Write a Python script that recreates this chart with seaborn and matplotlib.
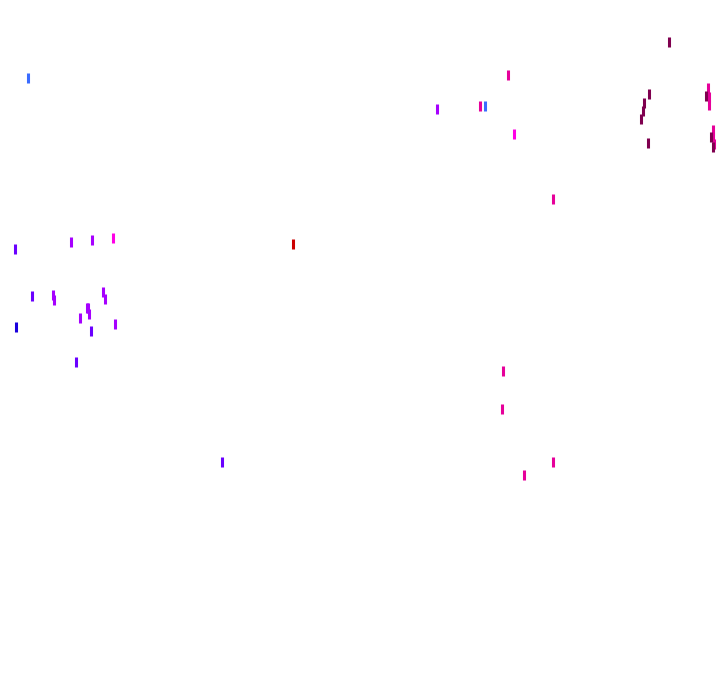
import matplotlib
matplotlib.use("Agg")
import matplotlib.pyplot as plt
import seaborn as sns
import pandas as pd

# marks (pixel-like units, y grows downward)
x_vals = [28, 485, 16, 15, 32, 91, 76, 222,
          71, 92, 53, 54, 103, 105, 87, 88, 89, 80, 115, 437,
          113, 514,
          480, 508, 553, 503, 502, 553, 524, 708, 709, 709, 713, 713, 714,
          669, 649, 644, 643, 641, 648, 706, 711, 713,
          293]
y_vals = [78, 106, 327, 249, 296, 331, 362, 462,
          242, 240, 295, 300, 292, 299, 308, 308, 314, 318, 324, 109,
          238, 134,
          106, 75, 199, 371, 409, 462, 475, 88, 97, 105, 130, 137, 144,
          42, 94, 103, 111, 119, 143, 96, 137, 147,
          244]
groups = (["blue"] * 2 + ["indigo"] + ["violet"] * 5 + ["purple"] * 12
          + ["magenta"] * 2 + ["pink"] * 13 + ["plum"] * 9 + ["red"])

palette = {
    "blue": "#3a6cff",
    "indigo": "#1a00dd",
    "violet": "#6a00ff",
    "purple": "#a600ff",
    "magenta": "#ff00e6",
    "pink": "#e6009a",
    "plum": "#7f004f",
    "red": "#cc0000",
}

df = pd.DataFrame({"x": x_vals, "y": y_vals, "group": groups})

sns.set_theme(style="white")
fig = plt.figure(figsize=(7.2, 6.92), dpi=100)
ax = fig.add_axes([0, 0, 1, 1])
sns.scatterplot(data=df, x="x", y="y", hue="group", palette=palette,
                marker="|", s=55, linewidth=2.2, legend=False, ax=ax)
ax.set_xlim(0, 720)
ax.set_ylim(692, 0)
ax.axis("off")

fig.savefig("out.png", dpi=100, facecolor="white")
